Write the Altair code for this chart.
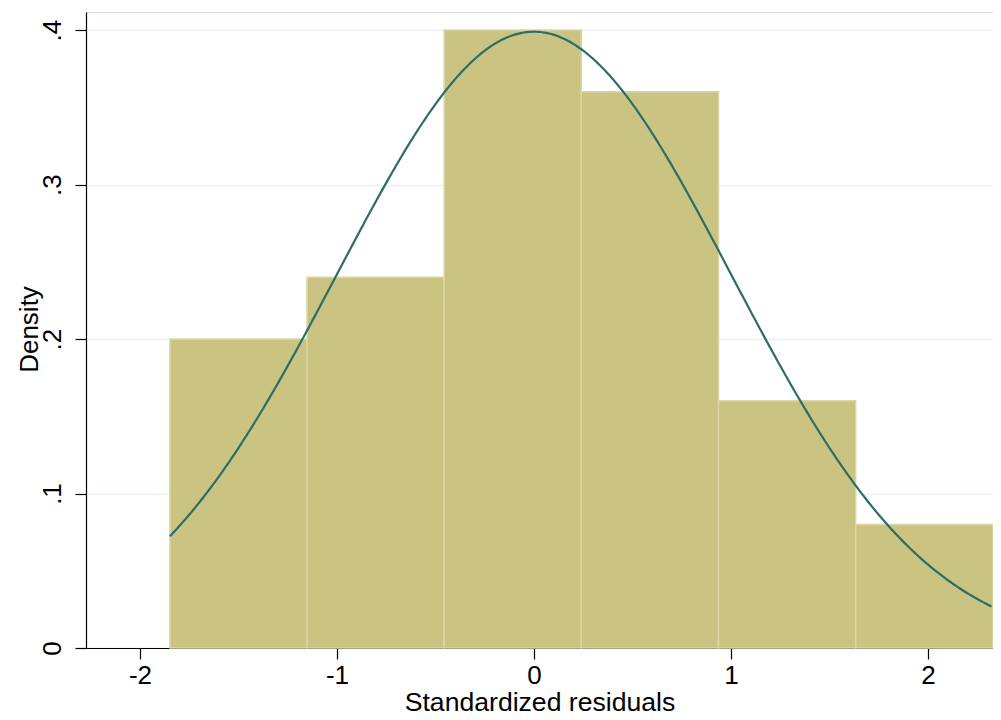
import altair as alt
import pandas as pd

# Histogram bins (standardized residuals) and densities
bin_left = [-1.848, -1.152, -0.456, 0.240, 0.937, 1.633]
bin_right = [-1.152, -0.456, 0.240, 0.937, 1.633, 2.330]
density = [0.20, 0.24, 0.40, 0.36, 0.16, 0.08]

# Normal overlay parameters
norm_mean = 0.0
norm_sd = 1.0
curve_start = -1.848
curve_stop = 2.331

x_ticks = [-2, -1, 0, 1, 2]
y_ticks = [0, 0.1, 0.2, 0.3, 0.4]

FONT = "Liberation Sans"

bars_df = pd.DataFrame({"left": bin_left, "right": bin_right, "density": density})

xscale = alt.Scale(domain=[-2.274, 2.330], nice=False, zero=False)
yscale = alt.Scale(domain=[0, 0.4117], nice=False, zero=True)

x_axis = alt.Axis(
    title="Standardized residuals", values=x_ticks, labelExpr="'' + datum.value",
    grid=False, tickSize=11, tickColor="black", domainColor="black",
    labelFontSize=26, titleFontSize=26.6, labelPadding=3,
    titleBaseline="alphabetic", titleY=62, titleAlign="center",
    labelFont=FONT, titleFont=FONT, labelColor="black", titleColor="black",
    titleFontWeight="normal", domainWidth=1.2, tickWidth=1.2,
)
y_axis = alt.Axis(
    title="Density", values=y_ticks,
    labelExpr="datum.value == 0 ? '0' : '.' + round(datum.value * 10)",
    grid=True, gridColor="#eaf2f3", gridWidth=1.5,
    tickSize=11, tickColor="black", domainColor="black",
    labelFontSize=26, titleFontSize=26, labelAngle=-90, labelAlign="center",
    labelBaseline="bottom", labelPadding=10,
    titleBaseline="alphabetic", titleX=-49, titleY=317, titleAlign="center", titleAngle=270,
    labelFont=FONT, titleFont=FONT, labelColor="black", titleColor="black",
    titleFontWeight="normal", domainWidth=1.2, tickWidth=1.2,
)

bars = alt.Chart(bars_df).mark_rect(
    color="#cbc382", stroke="#dcd6a4", strokeWidth=1.5
).encode(
    x=alt.X("left:Q", scale=xscale, axis=x_axis),
    x2="right:Q",
    y=alt.Y("density:Q", scale=yscale, axis=y_axis),
    y2=alt.datum(0),
)

curve = alt.Chart(alt.SequenceGenerator(sequence={"start": curve_start, "stop": curve_stop, "step": 0.01, "as": "x"})).transform_calculate(
    y=f"densityNormal(datum.x, {norm_mean}, {norm_sd})"
).mark_line(color="#2b6e67", strokeWidth=2.2).encode(
    x=alt.X("x:Q", scale=xscale),
    y=alt.Y("y:Q", scale=yscale),
)

chart = alt.layer(bars, curve).properties(
    width=907, height=636,
    autosize=alt.AutoSizeParams(type="none"),
    padding={"left": 78, "top": 4, "right": 0, "bottom": 64},
).configure_view(stroke=None).configure(background="white")

chart.save("out.html", embed_options={"renderer": "svg", "actions": False})
